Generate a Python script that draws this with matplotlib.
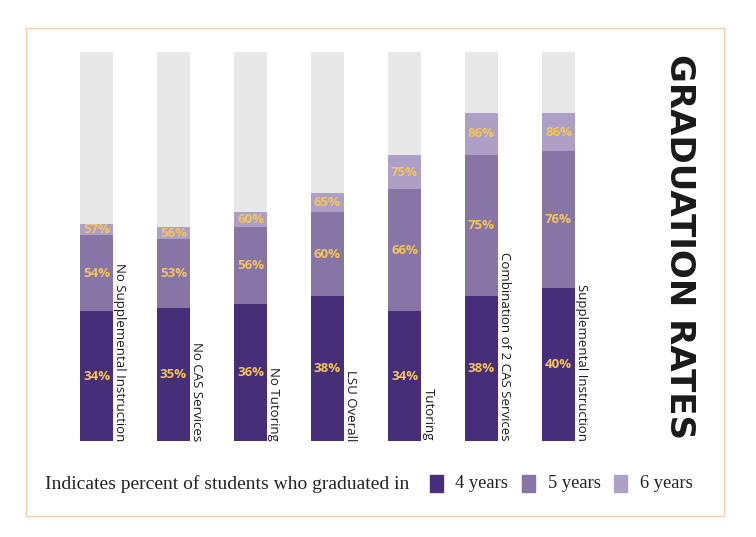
import matplotlib.pyplot as plt
from matplotlib.patches import Rectangle

categories = ['No Supplemental Instruction', 'No CAS Services', 'No Tutoring',
              'LSU Overall', 'Tutoring', 'Combination of 2 CAS Services',
              'Supplemental Instruction']
# cumulative percent graduated
yr4 = [34, 35, 36, 38, 34, 38, 40]
yr5 = [54, 53, 56, 60, 66, 75, 76]
yr6 = [57, 56, 60, 65, 75, 86, 86]
legend_labels = ['4 years', '5 years', '6 years']

c4 = '#462f78'
c5 = '#8775a6'
c6 = '#ae9fc7'
bg = '#e8e8e8'
txt_yellow = '#f5c55a'

W, H = 756, 537
fig = plt.figure(figsize=(W / 100, H / 100), dpi=100)

# axes in pixel terms
left_px, right_px = 60, 625
bot_px, top_px = 441, 52
ax = fig.add_axes([left_px / W, (H - bot_px) / H,
                   (right_px - left_px) / W, (bot_px - top_px) / H])
step = 77
c0 = 96.5
ymax = 102
ax.set_xlim((left_px - c0) / step, (right_px - c0) / step)
ax.set_ylim(0, ymax)
ax.axis('off')

width = 33 / step
x = list(range(len(categories)))

ax.bar(x, [ymax] * len(x), width=width, color=bg)
ax.bar(x, yr6, width=width, color=c6)
ax.bar(x, yr5, width=width, color=c5)
ax.bar(x, yr4, width=width, color=c4)

for i in x:
    lo = 0
    for v in (yr4[i], yr5[i], yr6[i]):
        ax.text(i, (lo + v) / 2, f'{v}%', ha='center', va='center',
                color=txt_yellow, fontsize=9.5, fontweight='bold',
                family='Open Sans')
        lo = v
    ax.text(i + width / 2 + 0.005, 0, categories[i], rotation=-90,
            ha='left', va='bottom', fontsize=9.5, family='Open Sans',
            color='#1a1a1a')

# title
fig.text(679 / W, 1 - 247 / H, 'GRADUATION RATES', rotation=-90,
         ha='center', va='center', fontsize=24.5, fontweight='bold',
         family='DejaVu Sans', color='#1a1a1a')

# legend row
ly = 1 - 484 / H
fig.text(45 / W, ly, 'Indicates percent of students who graduated in',
         ha='left', va='center', fontsize=14, family='Liberation Serif',
         color='#222222')
for sx, tx, col, lab in [(430, 455, c4, legend_labels[0]),
                         (522, 548, c5, legend_labels[1]),
                         (614, 640, c6, legend_labels[2])]:
    fig.patches.append(Rectangle((sx / W, 1 - 492 / H), 13 / W, 17 / H,
                                 color=col, transform=fig.transFigure))
    fig.text(tx / W, ly, lab, ha='left', va='center', fontsize=13.3,
             family='Liberation Serif', color='#222222')

# outer frame
fig.patches.append(Rectangle((26 / W, 1 - 516 / H), 698 / W, 488 / H,
                             fill=False, edgecolor='#f5cda9', linewidth=1,
                             transform=fig.transFigure))

fig.savefig('out.png', dpi=100)
